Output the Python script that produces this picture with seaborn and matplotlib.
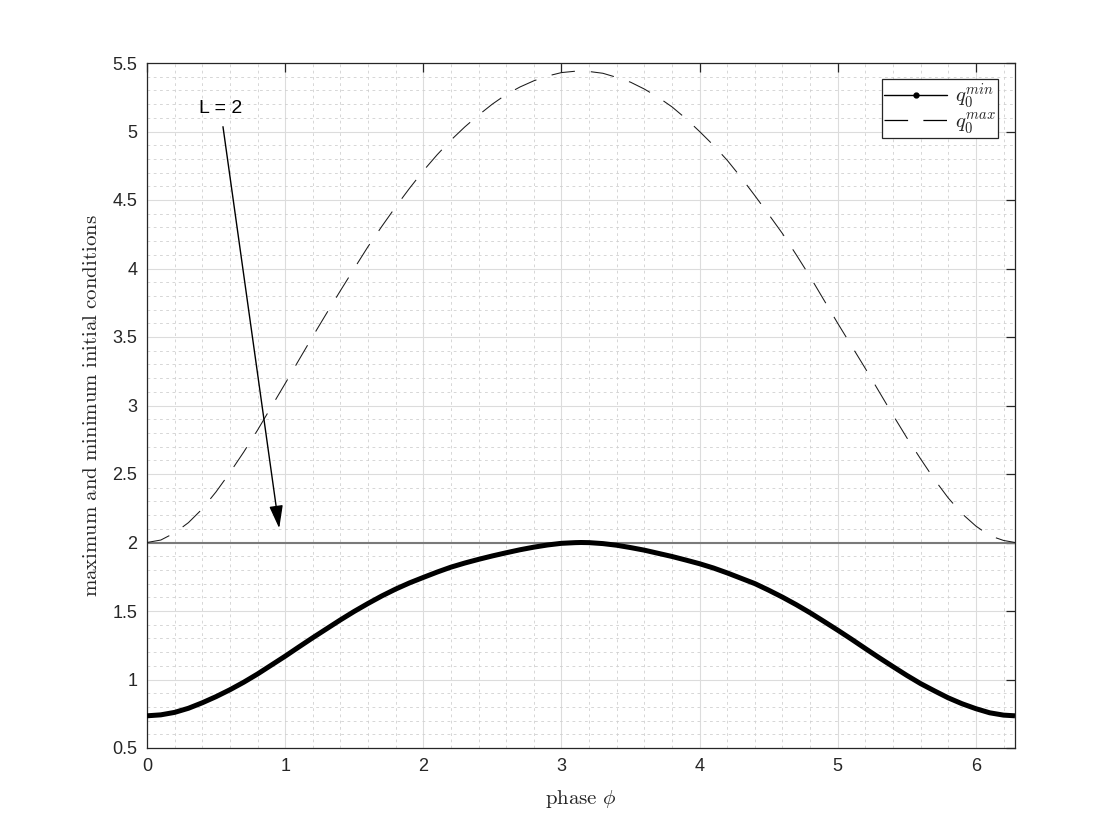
import numpy as np
import pandas as pd
import matplotlib
matplotlib.use("Agg")
import matplotlib.pyplot as plt
from matplotlib.lines import Line2D
from matplotlib.ticker import MultipleLocator
import seaborn as sns

# values
phase = [0.0, 0.1, 0.2, 0.3, 0.4, 0.5, 0.6, 0.7, 0.8, 0.9, 1.0, 1.1, 1.2, 1.3, 1.4,
         1.5, 1.6, 1.7, 1.8, 1.9, 2.0, 2.1, 2.2, 2.3, 2.4, 2.5, 2.6, 2.7, 2.8, 2.9,
         3.0, 3.1, 3.1416, 3.2, 3.3, 3.4, 3.5, 3.6, 3.7, 3.8, 3.9, 4.0, 4.1, 4.2,
         4.3, 4.4, 4.5, 4.6, 4.7, 4.8, 4.9, 5.0, 5.1, 5.2, 5.3, 5.4, 5.5, 5.6, 5.7,
         5.8, 5.9, 6.0, 6.1, 6.2, 6.2832]
q0_min = [0.735, 0.742, 0.76, 0.79, 0.83, 0.875, 0.925, 0.98, 1.04, 1.105, 1.17,
          1.238, 1.305, 1.37, 1.435, 1.497, 1.555, 1.61, 1.66, 1.705, 1.745, 1.784,
          1.82, 1.85, 1.877, 1.902, 1.925, 1.947, 1.966, 1.982, 1.994, 1.999, 2.0,
          1.999, 1.992, 1.98, 1.963, 1.944, 1.921, 1.898, 1.872, 1.845, 1.814, 1.778,
          1.739, 1.70, 1.652, 1.601, 1.546, 1.487, 1.424, 1.36, 1.294, 1.226, 1.159,
          1.094, 1.03, 0.97, 0.917, 0.866, 0.823, 0.787, 0.757, 0.74, 0.735]
q0_max = [2.0, 2.018, 2.07, 2.145, 2.245, 2.37, 2.51, 2.66, 2.82, 2.99, 3.16, 3.333,
          3.505, 3.673, 3.838, 4.0, 4.16, 4.308, 4.45, 4.585, 4.713, 4.83, 4.937,
          5.033, 5.12, 5.2, 5.27, 5.325, 5.37, 5.405, 5.43, 5.44, 5.44, 5.438, 5.425,
          5.395, 5.36, 5.31, 5.25, 5.18, 5.095, 5.0, 4.9, 4.79, 4.665, 4.532, 4.395,
          4.255, 4.1, 3.94, 3.77, 3.60, 3.435, 3.27, 3.1, 2.93, 2.765, 2.61, 2.46,
          2.325, 2.21, 2.12, 2.05, 2.015, 2.0]
L_level = 2.0

# annotation "L = 2"
label_pos = (0.535, 5.17)
arrow_tail = (0.55, 5.035)
arrow_tip = (0.957, 2.104)

df = pd.DataFrame({"phase": phase, "q0_min": q0_min, "q0_max": q0_max})

sns.set_theme(style="white")
plt.rcParams["font.family"] = ["Liberation Sans", "DejaVu Sans"]
plt.rcParams["mathtext.fontset"] = "cm"
plt.rcParams["lines.scale_dashes"] = False

fig = plt.figure(figsize=(11.2, 8.4), dpi=100)
ax = fig.add_axes([147 / 1120, 1 - 748 / 840, 868 / 1120, 685 / 840])

ax.axhline(L_level, color="#7a7a7a", lw=1.5, zorder=2)
sns.lineplot(data=df, x="phase", y="q0_max", ax=ax, color="#1a1a1a", lw=0.75,
             estimator=None, sort=False, zorder=3)
ax.lines[-1].set_dashes((17, 11.5))
sns.lineplot(data=df, x="phase", y="q0_min", ax=ax, color="black", lw=3.6,
             estimator=None, sort=False, zorder=4,
             solid_joinstyle="round", solid_capstyle="butt")

ax.set_xlim(0, 6.2832)
ax.set_ylim(0.5, 5.5)
ax.xaxis.set_major_locator(MultipleLocator(1))
ax.xaxis.set_minor_locator(MultipleLocator(0.2))
ax.yaxis.set_major_locator(MultipleLocator(0.5))
ax.yaxis.set_minor_locator(MultipleLocator(0.1))
ax.set_yticks(np.arange(0.5, 5.51, 0.5))
ax.set_yticklabels(["0.5", "1", "1.5", "2", "2.5", "3", "3.5", "4", "4.5", "5", "5.5"])

ax.grid(which="major", color="#dcdcdc", lw=0.8, ls="-")
ax.grid(which="minor", color="#d0d0d0", lw=0.6, ls=(0, (2, 2.5)))
ax.set_axisbelow(True)

for s in ax.spines.values():
    s.set_visible(True)
    s.set_color("#262626")
    s.set_linewidth(0.9)
ax.tick_params(which="major", direction="in", length=6.5, width=0.9, color="#262626",
               top=True, right=True, labelsize=13, labelcolor="#262626", pad=7)
ax.tick_params(which="minor", length=0)

ax.set_xlabel(r"$\mathrm{phase}\ \phi$", fontsize=15, color="#262626")
ax.set_ylabel(r"$\mathrm{maximum\ and\ minimum\ initial\ conditions}$", fontsize=15,
              color="#262626")
ax.xaxis.set_label_coords(0.5, -0.058)
ax.yaxis.set_label_coords(-0.053, 0.5)

ax.annotate("", xy=arrow_tip, xytext=arrow_tail,
            arrowprops=dict(arrowstyle="-|>,head_length=1.0,head_width=0.3",
                            color="black", lw=1.0, shrinkA=0, shrinkB=0,
                            mutation_scale=14))
ax.text(*label_pos, "L = 2", fontsize=14, ha="center", va="center", color="black")

handles = [Line2D([], [], color="black", lw=1.0, marker=".", markersize=7),
           Line2D([], [], color="black", lw=0.9, dashes=(17, 11))]
leg = ax.legend(handles, [r"$q_0^{min}$", r"$q_0^{max}$"], loc="upper right",
                bbox_to_anchor=(1 - 17 / 868, 1 - 16 / 685), borderaxespad=0,
                fontsize=15, handlelength=3.0, fancybox=False, framealpha=1,
                edgecolor="#262626", borderpad=0.1, labelspacing=0.0,
                handletextpad=0.4)
leg.get_frame().set_linewidth(0.9)

fig.savefig("out.png", dpi=100)
